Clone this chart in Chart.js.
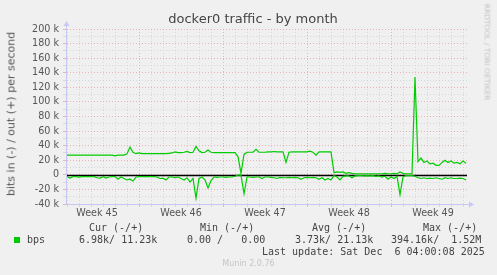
<!DOCTYPE html>
<html>
<head>
<meta charset="utf-8">
<script src="https://cdn.jsdelivr.net/npm/chart.js@4/dist/chart.umd.min.js"></script>
<style>
  body { margin: 0; background: #f0f0f0; }
  #wrap { position: relative; width: 497px; height: 275px; overflow: hidden; background: #f0f0f0; }
  #trafficChart { position: absolute; left: 0; top: 0; }
  .txt { position: absolute; white-space: pre; color: #444; }
  .mono { font-family: "DejaVu Sans Mono", monospace; font-size: 10px; line-height: 12px; }
</style>
</head>
<body>
<div id="wrap">
  <canvas id="trafficChart" width="497" height="275"></canvas>
  <div class="txt" style="left:0;width:497px;top:11px;text-align:center;font:13px 'DejaVu Sans';color:#444;padding-left:9px;box-sizing:border-box;">docker0 traffic - by month</div>
  <div class="txt" style="left:11px;top:114px;font:11px 'DejaVu Sans';color:#555;transform:translate(-50%,-50%) rotate(-90deg);">bits in (-) / out (+) per second</div>
  <div class="txt" style="left:487px;top:52px;font:7.5px 'DejaVu Sans';color:#c4c4c4;transform:translate(-50%,-50%) rotate(90deg);">RRDTOOL / TOBI OETIKER</div>

  <div class="txt mono" style="left:89px;top:222px;">Cur (-/+)</div>
  <div class="txt mono" style="left:200px;top:222px;">Min (-/+)</div>
  <div class="txt mono" style="left:312px;top:222px;">Avg (-/+)</div>
  <div class="txt mono" style="left:423px;top:222px;">Max (-/+)</div>

  <div style="position:absolute;left:14px;top:237px;width:6px;height:6px;background:#00cc00;"></div>
  <div class="txt mono" style="left:27px;top:234px;">bps</div>
  <div class="txt mono" style="left:79px;top:234px;">6.98k/ 11.23k</div>
  <div class="txt mono" style="left:187px;top:234px;">0.00 /   0.00</div>
  <div class="txt mono" style="left:295px;top:234px;">3.73k/ 21.13k</div>
  <div class="txt mono" style="left:391px;top:234px;">394.16k/  1.52M</div>

  <div class="txt mono" style="left:262px;top:246px;">Last update: Sat Dec  6 04:00:08 2025</div>
  <div class="txt" style="left:0;width:497px;top:259px;text-align:center;font:8px 'DejaVu Sans';color:#c4c4c4;">Munin 2.0.76</div>
</div>

<script>
// time axis: days since Monday of week 45, one sample every 6 hours
const firstWeek = 45;
const startDay = 1;
const stepDay = 0.25;

// out (+) in kbit/s
const outKbps = [
  27, 27, 27, 27, 27, 27, 27, 27, 27, 27,
  27, 27, 27, 27, 27, 27, 26, 27, 27, 27,
  29, 38, 31, 29, 30, 29, 29, 29, 29, 29,
  29, 29, 29, 29, 29.5, 30, 31.5, 30.5, 30.5, 31,
  32, 30.5, 31, 39, 33, 30.5, 31, 34, 31, 30.5,
  30.5, 30.5, 30.5, 30.5, 30.5, 30.5, 30.5, 25, 2, 28,
  31, 31, 31, 35, 31, 31, 31, 31.5, 31.5, 32,
  31.5, 31.5, 31.5, 17, 31, 31.5, 31.5, 31.5, 31.5, 31.5,
  31.5, 32.5, 31, 27, 31.5, 31.5, 31.5, 31.5, 31.5, 3,
  4, 3.5, 4, 2, 3, 2, 1.5, 1.5, 1.5, 1.5,
  1.5, 1.5, 1.5, 1.5, 1.5, 1.5, 2, 1.5, 1.5, 2,
  1.5, 4, 2, 1.5, 1.5, 1.5, 134, 18, 23, 17,
  19, 15, 16, 13, 13, 17, 20, 17, 19, 16,
  17, 15, 19, 16
];

// in (-) in kbit/s
const inKbps = [
  -2.5, -4.5, -2.5, -2.5, -3, -2.5, -2.5, -2.5, -2.5, -2.5,
  -4, -4.5, -2.5, -4.5, -3, -2.5, -2.5, -6, -3, -5,
  -7, -6, -8.5, -3, -2.5, -2.5, -2.5, -2.5, -2.5, -2.5,
  -3, -5, -4.5, -7, -3, -3, -4, -3, -5, -7,
  -4, -10, -5, -32, -5, -3, -7, -18, -8, -3,
  -3.5, -3, -3, -3.5, -3, -3, -2, -0.5, -0.5, -26,
  -3, -3, -3.5, -3, -3, -5, -3, -3, -3.5, -4,
  -5, -3.5, -4, -4, -3.5, -4, -3.5, -4, -6, -4,
  -3.5, -4, -3.5, -4, -6, -4, -7, -5, -7, -1,
  -3, -7, -2, -1.5, -1.5, -4, -1.5, -1, -1, -1.5,
  -1, -1.5, -1, -2, -1.5, -3, -2, -6, -3, -5,
  -2, -27, -3, -1, -1, -1, -2, -4, -5, -4,
  -5, -4.5, -5, -4, -5, -6, -4, -5, -4, -5,
  -5, -4.5, -5, -7
];

// y ticks every 10k, labelled every 20k
const yTicks = [-40, -30, -20, -10, 0, 10, 20, 30, 40, 50, 60, 70, 80, 90, 100,
  110, 120, 130, 140, 150, 160, 170, 180, 190, 200];

const majorGrid = 'rgba(225, 140, 140, 0.6)';
const minorGrid = 'rgba(200, 200, 200, 0.6)';
const axisBlue = '#c8c8f4';

function toPoints(vals) {
    return vals.map((v, i) => ({ x: startDay + i * stepDay, y: v * 1000 }));
}

// zero line + axis arrows like rrdtool
const rrdAxes = {
    id: 'rrdAxes',
    beforeDatasetsDraw(chart) {
        const { ctx, chartArea, scales } = chart;
        const y0 = Math.round(scales.y.getPixelForValue(0)) + 0.5;
        ctx.save();
        ctx.strokeStyle = '#000';
        ctx.lineWidth = 1.5;
        ctx.beginPath();
        ctx.moveTo(chartArea.left, y0);
        ctx.lineTo(chartArea.right, y0);
        ctx.stroke();
        ctx.restore();
    },
    afterDraw(chart) {
        const { ctx, chartArea } = chart;
        const l = chartArea.left - 0.5, b = Math.round(chartArea.bottom) + 0.5;
        ctx.save();
        ctx.strokeStyle = axisBlue;
        ctx.fillStyle = axisBlue;
        ctx.lineWidth = 1;
        ctx.beginPath();
        ctx.moveTo(l, b);
        ctx.lineTo(l, chartArea.top - 4);
        ctx.moveTo(l, b);
        ctx.lineTo(chartArea.right + 3, b);
        ctx.stroke();
        ctx.beginPath();
        ctx.moveTo(l - 3, chartArea.top - 3);
        ctx.lineTo(l + 3, chartArea.top - 3);
        ctx.lineTo(l, chartArea.top - 8);
        ctx.fill();
        ctx.beginPath();
        ctx.moveTo(chartArea.right + 2, b - 3);
        ctx.lineTo(chartArea.right + 2, b + 3);
        ctx.lineTo(chartArea.right + 7, b);
        ctx.fill();
        ctx.restore();
    }
};

let ctx = document.getElementById('trafficChart').getContext('2d');

new Chart(ctx, {
    type: 'line',
    data: {
        datasets: [
            {
                label: 'out',
                data: toPoints(outKbps),
                borderColor: '#00cc00',
                borderWidth: 1.2,
                pointRadius: 0,
                tension: 0
            },
            {
                label: 'in',
                data: toPoints(inKbps),
                borderColor: '#00cc00',
                borderWidth: 1.2,
                pointRadius: 0,
                tension: 0
            }
        ]
    },
    options: {
        responsive: false,
        animation: false,
        events: [],
        layout: {
            padding: { left: 0, right: 30, top: 29, bottom: 51 }
        },
        plugins: {
            legend: { display: false },
            title: { display: false },
            tooltip: { enabled: false }
        },
        scales: {
            x: {
                type: 'linear',
                min: 1,
                max: 34.3333,
                afterFit: s => { s.height = 20; },
                afterBuildTicks: s => {
                    let t = [];
                    for (let d = 1; d <= 34; d++) t.push({ value: d });
                    for (let w = 0; w < 5; w++) t.push({ value: w * 7 + 3.5 });
                    t.sort((a, b) => a.value - b.value);
                    s.ticks = t;
                },
                grid: {
                    color: c => {
                        const v = c.tick ? c.tick.value : 0;
                        if (v % 1 !== 0) return 'rgba(0,0,0,0)';
                        return v % 7 === 0 ? majorGrid : minorGrid;
                    },
                    tickLength: 3,
                    borderDash: [1, 2]
                },
                border: { display: false, dash: [1, 2] },
                ticks: {
                    autoSkip: false,
                    maxRotation: 0,
                    padding: 1,
                    color: '#555',
                    font: { family: 'DejaVu Sans', size: 9.6 },
                    callback: v => (v % 7 === 3.5) ? 'Week ' + (firstWeek + Math.floor(v / 7)) : ''
                }
            },
            y: {
                min: -40000,
                max: 200000,
                afterFit: s => { s.width = 67; },
                afterBuildTicks: s => {
                    s.ticks = yTicks.map(v => ({ value: v * 1000 }));
                },
                grid: {
                    color: c => {
                        const v = c.tick ? c.tick.value : 0;
                        return (v % 20000 === 0) ? majorGrid : minorGrid;
                    },
                    tickLength: 4,
                    borderDash: [1, 2]
                },
                border: { display: false, dash: [1, 2] },
                ticks: {
                    autoSkip: false,
                    padding: 4,
                    color: '#555',
                    font: { family: 'DejaVu Sans', size: 9.6 },
                    callback: v => {
                        if (v % 20000 !== 0) return '';
                        return v === 0 ? '0' : (v / 1000) + ' k';
                    }
                }
            }
        }
    },
    plugins: [rrdAxes]
});
</script>
</body>
</html>
